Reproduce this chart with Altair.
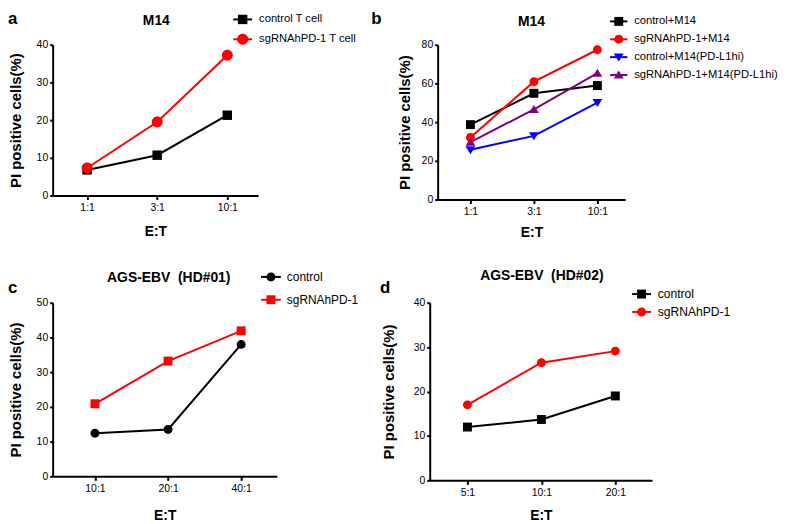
import math
import altair as alt
import pandas as pd

FONT = "Liberation Sans"

# ---------------- data ----------------
a_ratios = ["1:1", "3:1", "10:1"]
a_series = ["control T cell", "sgRNAhPD-1 T cell"]
a_control = [6.8, 10.7, 21.3]
a_sgrna = [7.3, 19.5, 37.2]

b_ratios = ["1:1", "3:1", "10:1"]
b_series = ["control+M14", "sgRNAhPD-1+M14", "control+M14(PD-L1hi)", "sgRNAhPD-1+M14(PD-L1hi)"]
b_control = [38.7, 54.9, 58.9]
b_sgrna = [32.1, 60.9, 77.4]
b_control_hi = [25.7, 32.9, 50.1]
b_sgrna_hi = [29.6, 46.6, 65.3]

c_ratios = ["10:1", "20:1", "40:1"]
c_series = ["control", "sgRNAhPD-1"]
c_control = [12.4, 13.5, 38.0]
c_sgrna = [20.9, 33.2, 41.9]

d_ratios = ["5:1", "10:1", "20:1"]
d_series = ["control", "sgRNAhPD-1"]
d_control = [12.0, 13.7, 19.0]
d_sgrna = [17.0, 26.5, 29.1]


def make_df(ratios, series, values_list):
    rows = []
    for s, vals in zip(series, values_list):
        for i, (r, v) in enumerate(zip(ratios, vals)):
            rows.append({"ratio": r, "series": s, "value": v, "idx": i})
    return pd.DataFrame(rows)


def box(hb, sym):
    b = hb / (math.sqrt(sym) / 2.0)
    return f"M{-b:.3f},{-b:.3f}M{b:.3f},{b:.3f}"


def marker_path(kind, px, sym, hb):
    u = math.sqrt(sym) / 2.0
    h = px / 2.0 / u
    if kind == "square":
        p = f"M{-h:.3f},{-h:.3f}L{h:.3f},{-h:.3f}L{h:.3f},{h:.3f}L{-h:.3f},{h:.3f}Z"
    elif kind == "circle":
        p = (f"M{h:.3f},0A{h:.3f},{h:.3f} 0 1,1 {-h:.3f},0"
             f"A{h:.3f},{h:.3f} 0 1,1 {h:.3f},0Z")
    elif kind == "tri-up":
        p = f"M0,{-h:.3f}L{h*1.1:.3f},{h*0.8:.3f}L{-h*1.1:.3f},{h*0.8:.3f}Z"
    elif kind == "tri-down":
        p = f"M0,{h:.3f}L{h*1.1:.3f},{-h*0.8:.3f}L{-h*1.1:.3f},{-h*0.8:.3f}Z"
    else:
        raise ValueError(kind)
    return box(hb, sym) + p


def line_path(px, sym, hb):
    hl = px / 2.0 / (math.sqrt(sym) / 2.0)
    return box(hb, sym) + f"M{-hl:.3f},0L{hl:.3f},0"


def panel(df, ratios, series, colors, markers, letter, cfg):
    sym = cfg["sym"]
    hb = cfg["hb"]
    paths = [marker_path(k, px, sym, hb) for k, px in markers]
    x = alt.X(
        "ratio:N", sort=ratios,
        scale=alt.Scale(type="point", padding=cfg["pad"], align=cfg["align"]),
        axis=alt.Axis(title="E:T", labelAngle=0, titleY=cfg["xty"], titleBaseline="middle",
                      titleFontSize=14),
    )
    y = alt.Y(
        "value:Q",
        scale=alt.Scale(domain=[0, cfg["ymax"]], nice=False),
        axis=alt.Axis(values=cfg["yvals"], title="PI positive cells(%)", titleX=cfg["ytx"],
                      titleBaseline="middle", titleFontSize=cfg["ytfs"]),
    )
    common = dict(
        orient="none", legendX=cfg["lx"], legendY=cfg["ly"], title=None,
        symbolSize=sym, symbolStrokeWidth=2, labelFont=FONT, labelFontSize=cfg["lfs"],
        labelColor="black", labelOffset=cfg["lo"], rowPadding=0, padding=0, labelLimit=300,
    )
    base = alt.Chart(df)
    lines = base.mark_line(strokeWidth=2).encode(
        x=x, y=y, order=alt.Order("idx:Q"),
        stroke=alt.Stroke("series:N", sort=series, scale=alt.Scale(range=colors),
                          legend=alt.Legend(symbolType=line_path(cfg["ll"], sym, hb), **common)),
    )
    pts = base.mark_point(filled=True, opacity=1, size=sym).encode(
        x=x, y=y,
        fill=alt.Fill("series:N", scale=alt.Scale(domain=series, range=colors),
                      legend=alt.Legend(labelOpacity=0, **common)),
        shape=alt.Shape("series:N", scale=alt.Scale(domain=series, range=paths),
                        legend=alt.Legend(labelOpacity=0, **common)),
    )
    lab = alt.Chart(pd.DataFrame({"t": [letter]})).mark_text(
        font=FONT, fontSize=17, fontWeight="bold", align="left", baseline="alphabetic",
        color="black",
    ).encode(text="t:N", x=alt.value(cfg["labx"]), y=alt.value(cfg["laby"]))
    ttl = alt.Chart(pd.DataFrame({"t": [cfg["title"]]})).mark_text(
        font=FONT, fontSize=14, fontWeight="bold", align="center", baseline="alphabetic",
        color="black",
    ).encode(text="t:N", x=alt.value(cfg["w"] / 2 + cfg.get("tdx", 0)),
             y=alt.value(cfg["ty"]))
    return alt.layer(lines, pts, lab, ttl).properties(width=cfg["w"], height=cfg["h"])


df_a = make_df(a_ratios, a_series, [a_control, a_sgrna])
df_b = make_df(b_ratios, b_series, [b_control, b_sgrna, b_control_hi, b_sgrna_hi])
df_c = make_df(c_ratios, c_series, [c_control, c_sgrna])
df_d = make_df(d_ratios, d_series, [d_control, d_sgrna])

pa = panel(df_a, a_ratios, a_series, ["#000000", "#ff0000"],
           [("square", 9.5), ("circle", 11)], "a",
           dict(sym=256, hb=5.5, ll=19, pad=0.465, align=0.528, w=207, h=152, ymax=40,
                yvals=[0, 10, 20, 30, 40], xty=36, ytx=-37, ytfs=15,
                lx=182.5, ly=-34.5, lo=7.5, lfs=11.3, labx=-45, laby=-21,
                title="M14", ty=-20, tdx=1))
pb = panel(df_b, b_ratios, b_series, ["#000000", "#ff0000", "#0000ff", "#800080"],
           [("square", 9), ("circle", 9), ("tri-down", 9), ("tri-up", 9)], "b",
           dict(sym=234, hb=4.5, ll=17.5, pad=0.477, align=0.541, w=189, h=156, ymax=80,
                yvals=[0, 20, 40, 60, 80], xty=33, ytx=-33, ytfs=15,
                lx=173.5, ly=-32.5, lo=6.5, lfs=11.3, labx=-67, laby=-21,
                title="M14", ty=-19))
pc = panel(df_c, c_ratios, c_series, ["#000000", "#ff0000"],
           [("circle", 9), ("square", 9)], "c",
           dict(sym=441, hb=7.0, ll=20, pad=0.534, align=0.542, w=226, h=175, ymax=50,
                yvals=[0, 10, 20, 30, 40, 50], xty=39, ytx=-37.5, ytfs=15,
                lx=208.5, ly=-37.5, lo=4.5, lfs=12, labx=-45, laby=-10,
                title="AGS-EBV\u00a0 (HD#01)", ty=-21.3, tdx=4))
pd_ = panel(df_d, d_ratios, d_series, ["#000000", "#ff0000"],
            [("square", 9), ("circle", 9)], "d",
            dict(sym=246, hb=4.5, ll=19, pad=0.503, align=0.507, w=224, h=179, ymax=40,
                 yvals=[0, 10, 20, 30, 40], xty=35, ytx=-42, ytfs=15,
                 lx=204.5, ly=-17.7, lo=7.2, lfs=12.2, labx=-50, laby=-10,
                 title="AGS-EBV\u00a0 (HD#02)", ty=-22.7, tdx=1))

indep = dict(stroke="independent", fill="independent", shape="independent",
             x="independent", y="independent")

row1 = alt.hconcat(pa, pb, spacing=181, bounds="flush").resolve_scale(**indep)
row2 = alt.hconcat(pc, pd_, spacing=154, bounds="flush").resolve_scale(**indep)

chart = alt.vconcat(row1, row2, spacing=26).resolve_scale(**indep).properties(
    padding=0
).configure_axis(
    domainColor="black", domainWidth=2, tickColor="black", tickWidth=2,
    labelColor="black", labelFont=FONT, labelFontSize=10.5,
    titleFont=FONT, titleFontWeight="bold", titleColor="black", grid=False,
).configure_axisY(tickSize=3, labelPadding=2).configure_axisX(
    tickSize=4, labelPadding=3
).configure_view(strokeWidth=0)

chart.save("out.html", embed_options={"renderer": "svg", "actions": False})
